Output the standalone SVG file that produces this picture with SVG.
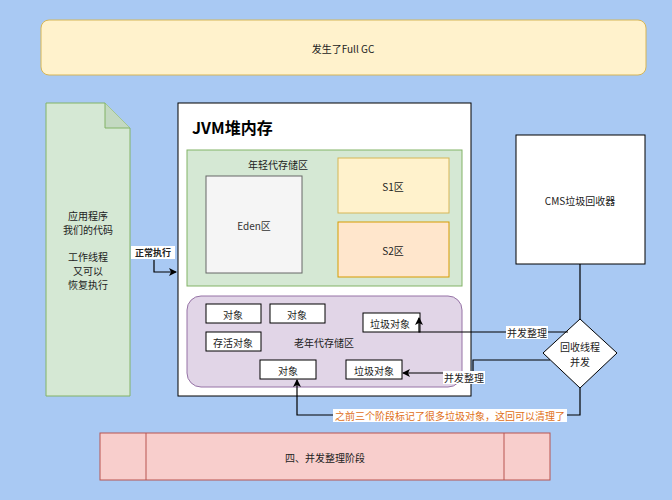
<svg xmlns="http://www.w3.org/2000/svg" width="672" height="500" viewBox="0 0 672 500">
<defs>
<marker id="ar" markerWidth="8" markerHeight="8" refX="7" refY="4" orient="auto" markerUnits="userSpaceOnUse"><path d="M0,0 L8,4 L0,8 L2,4 Z" fill="#000"/></marker>
<style>
text{font-family:"Noto Sans CJK SC","Liberation Sans",sans-serif;font-size:10px;fill:#222;text-anchor:middle;dominant-baseline:central}
.o{fill:#fff;stroke:#000;stroke-width:1}
.c{fill:none;stroke:#000;stroke-width:1.2}
.lb{fill:#fff}
</style>
</defs>
<rect width="672" height="500" fill="#a9c9f3"/>
<g id="top"><rect x="41" y="20" width="605" height="55" rx="8" fill="#fff2cc" stroke="#d6b656"/><text x="343" y="48">发生了Full GC</text></g>
<g id="app"><path d="M46,103 H105 L130,128 V396 H46 Z" fill="#d5e8d4" stroke="#82b366"/><path d="M105,103 V128 H130" fill="#c3d9c1" stroke="#82b366"/>
<text x="88" y="215">应用程序</text><text x="88" y="229">我们的代码</text><text x="88" y="256">工作线程</text><text x="88" y="270">又可以</text><text x="88" y="284">恢复执行</text></g>
<g id="jvm"><rect x="178" y="103" width="293" height="293" fill="#fff" stroke="#000"/><text x="192" y="127" style="font-size:16px;font-weight:bold;text-anchor:start;fill:#000">JVM堆内存</text></g>
<g id="young"><rect x="187" y="150" width="275" height="136" fill="#d5e8d4" stroke="#82b366"/><text x="278" y="164">年轻代存储区</text></g>
<g id="eden"><rect x="206" y="176" width="96" height="97" fill="#f5f5f5" stroke="#666"/><text x="254" y="225" style="fill:#333">Eden区</text></g>
<g id="s1"><rect x="338" y="158" width="111" height="55" fill="#fff2cc" stroke="#d6b656"/><text x="393" y="186">S1区</text></g>
<g id="s2"><rect x="338" y="222" width="111" height="55" fill="#ffe6cc" stroke="#d79b00"/><text x="393" y="250">S2区</text></g>
<g id="old"><rect x="187" y="296" width="275" height="91" rx="14" fill="#e1d5e7" stroke="#9673a6"/><text x="324" y="342">老年代存储区</text></g>
<g id="o1"><rect class="o" x="206" y="304" width="55" height="19"/><text x="233" y="314">对象</text></g>
<g id="o2"><rect class="o" x="270" y="304" width="55" height="19"/><text x="297" y="314">对象</text></g>
<g id="o3"><rect class="o" x="206" y="332" width="55" height="19"/><text x="233" y="342">存活对象</text></g>
<g id="o4"><rect class="o" x="363" y="313" width="57" height="19"/><text x="390" y="323">垃圾对象</text></g>
<g id="o5"><rect class="o" x="260" y="360" width="56" height="19"/><text x="288" y="370">对象</text></g>
<g id="o6"><rect class="o" x="346" y="360" width="56" height="19"/><text x="374" y="370">垃圾对象</text></g>
<g id="cms"><rect x="516" y="135" width="129" height="129" fill="#fff" stroke="#000"/><text x="580" y="200">CMS垃圾回收器</text></g>
<g id="dia"><path d="M580,319 L617,353 L580,388 L543,353 Z" fill="#fff" stroke="#000"/><text x="580" y="346">回收线程</text><text x="580" y="361">并发</text></g>
<g id="bottom"><rect x="100" y="433" width="450" height="47" fill="#f8cecc" stroke="#b85450"/><line x1="146" y1="433" x2="146" y2="480" stroke="#b85450"/><line x1="504" y1="433" x2="504" y2="480" stroke="#b85450"/><text x="325" y="457">四、并发整理阶段</text></g>
<g id="connectors">
<path class="c" d="M580,264 V319"/>
<path class="c" d="M154,260 V272 H176" marker-end="url(#ar)"/>
<path class="c" d="M568,332 H419 V318" marker-end="url(#ar)"/>
<path class="c" d="M550,360 H473 V373 H403" marker-end="url(#ar)"/>
<path class="c" d="M580,388 V415 H297 V380" marker-end="url(#ar)"/>
<rect class="lb" x="131" y="246" width="44" height="13"/><text x="153" y="252" style="font-weight:bold;font-size:9px">正常执行</text>
<rect class="lb" x="506" y="326" width="42" height="13"/><text x="527" y="332">并发整理</text>
<rect class="lb" x="443" y="371" width="42" height="13"/><text x="464" y="377">并发整理</text>
<rect class="lb" x="333" y="409" width="234" height="13"/><text x="450" y="415" style="fill:#e07020">之前三个阶段标记了很多垃圾对象，这回可以清理了</text>
</g>
</svg>
